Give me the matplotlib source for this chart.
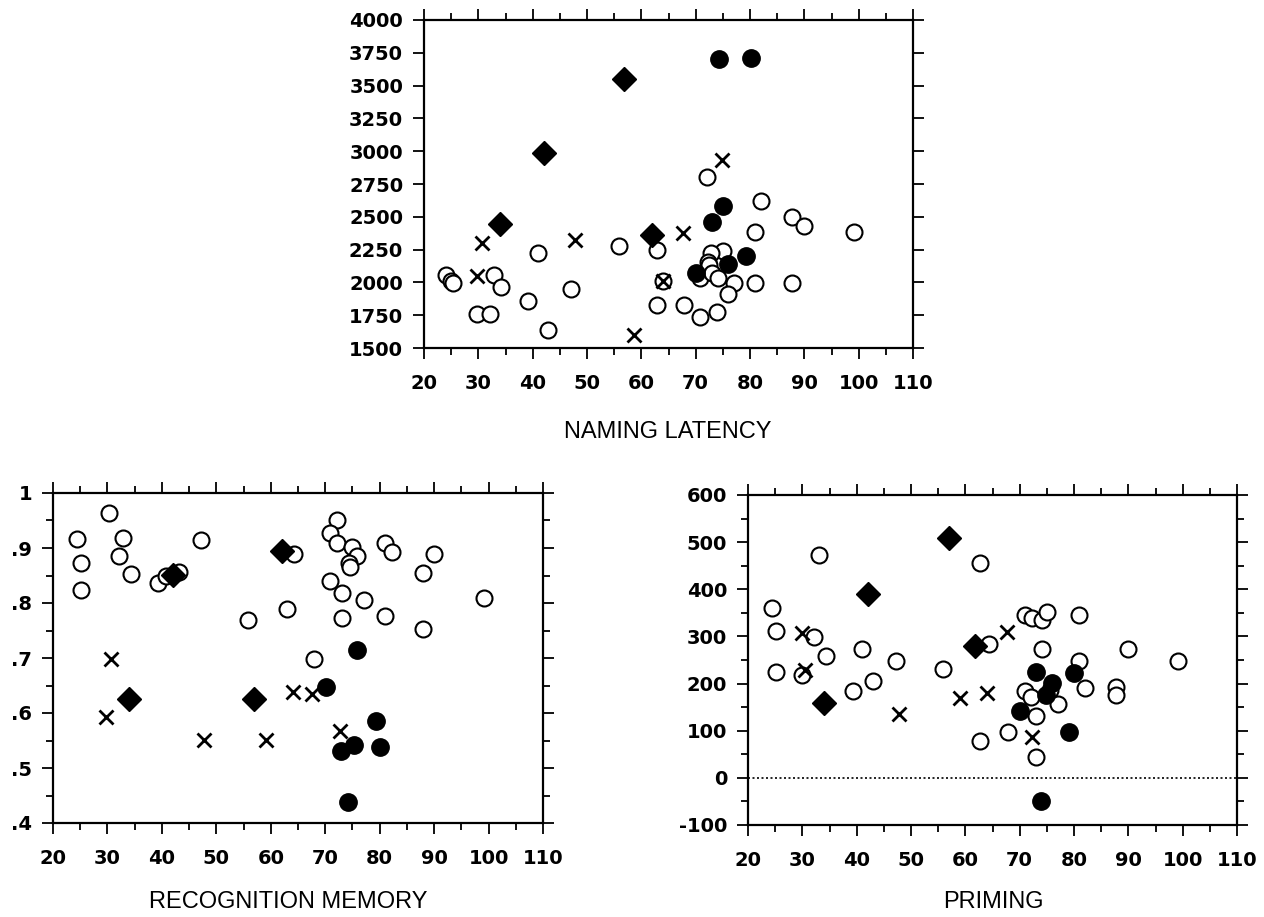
import matplotlib
matplotlib.use("Agg")
import matplotlib.pyplot as plt
from matplotlib.ticker import MultipleLocator, FuncFormatter

plt.rcParams["axes.unicode_minus"] = False

# ---------------- data ----------------
# NAMING LATENCY panel
nl_open_x = [24.0, 25.0, 25.4, 32.9, 34.2, 29.8, 32.1, 39.1, 40.9, 42.9, 47.1, 55.9, 62.8, 63.9, 62.8,
             67.9, 70.8, 74.0, 82.1, 87.8, 90.0, 99.2, 80.9, 75.0, 72.8, 72.2, 72.5, 70.8, 73.0, 74.2,
             77.1, 80.9, 87.8, 75.9, 72.0]
nl_open_y = [2056, 2013, 1998, 2056, 1967, 1759, 1759, 1860, 2226, 1637, 1950, 2280, 2247, 2013, 1828,
             1828, 1739, 1771, 2620, 2501, 2432, 2382, 2382, 2242, 2226, 2158, 2135, 2030, 2069, 2036,
             1998, 1998, 1998, 1912, 2806]
nl_fill_x = [74.3, 80.2, 75.1, 73.0, 79.3, 75.9, 70.1]
nl_fill_y = [3703, 3710, 2585, 2457, 2204, 2137, 2069]
nl_diam_x = [34.0, 42.1, 56.8, 61.9]
nl_diam_y = [2445, 2986, 3550, 2361]
nl_x_x = [29.7, 30.6, 47.7, 58.7, 63.9, 67.7, 74.8]
nl_x_y = [2049, 2298, 2323, 1600, 2013, 2374, 2933]

# RECOGNITION MEMORY panel
rm_open_x = [30.2, 24.4, 32.9, 25.1, 32.2, 34.3, 25.1, 39.2, 40.8, 43.2, 47.2, 64.2, 55.9, 63.0, 72.2,
             70.9, 72.2, 75.0, 75.9, 74.3, 74.5, 80.9, 82.2, 90.0, 87.9, 70.9, 73.0, 77.2, 99.2, 73.0,
             80.9, 87.9, 68.0]
rm_open_y = [0.964, 0.916, 0.919, 0.873, 0.886, 0.852, 0.824, 0.837, 0.849, 0.857, 0.915, 0.890, 0.769,
             0.790, 0.951, 0.927, 0.910, 0.902, 0.885, 0.872, 0.866, 0.910, 0.893, 0.889, 0.855, 0.840,
             0.819, 0.805, 0.810, 0.773, 0.777, 0.752, 0.698]
rm_fill_x = [70.1, 75.9, 79.3, 75.2, 72.9, 80.0, 74.2]
rm_fill_y = [0.648, 0.715, 0.585, 0.542, 0.531, 0.539, 0.439]
rm_diam_x = [34.0, 42.0, 57.0, 62.0]
rm_diam_y = [0.625, 0.851, 0.625, 0.895]
rm_x_x = [30.7, 29.7, 47.7, 59.1, 64.0, 67.6, 72.7]
rm_x_y = [0.699, 0.593, 0.551, 0.551, 0.639, 0.635, 0.567]

# PRIMING panel
pr_open_x = [33.1, 24.4, 25.2, 32.1, 34.3, 40.9, 47.2, 55.9, 62.7, 25.2, 30.0, 39.3, 43.0, 62.7, 70.9,
             72.2, 74.2, 75.1, 80.9, 64.4, 74.2, 89.9, 80.9, 99.1, 70.9, 72.1, 77.0, 82.0, 87.7, 87.7,
             73.0, 67.9, 73.0, 75.6]
pr_open_y = [473, 361, 312, 298, 259, 273, 248, 230, 456, 224, 218, 185, 205, 79, 345,
             340, 335, 351, 345, 284, 273, 273, 248, 248, 185, 172, 156, 190, 192, 176,
             131, 98, 45, 186]
pr_fill_x = [73.0, 80.0, 75.9, 74.8, 70.1, 79.1, 74.0]
pr_fill_y = [225, 223, 202, 176, 142, 98, -49]
pr_diam_x = [34.0, 42.1, 57.0, 61.8]
pr_diam_y = [158, 391, 508, 280]
pr_x_x = [29.9, 30.5, 47.8, 59.0, 64.0, 67.7, 72.3]
pr_x_y = [307, 228, 135, 170, 179, 310, 86]

x_ticks = [20, 30, 40, 50, 60, 70, 80, 90, 100, 110]
titles = ["NAMING LATENCY", "RECOGNITION MEMORY", "PRIMING"]

# ---------------- figure ----------------
fig = plt.figure(figsize=(12.64, 9.17), dpi=100)
W, H = 1264, 917

def box(l, t, r, b):
    return [l / W, 1 - b / H, (r - l) / W, (b - t) / H]

ax_nl = fig.add_axes(box(424, 20, 913, 348))
ax_rm = fig.add_axes(box(53, 493, 543, 823))
ax_pr = fig.add_axes(box(748, 495, 1237, 825))

TF = dict(fontfamily="DejaVu Sans", fontsize=14, fontweight="bold")

def style(ax, ylim, ymajor, yminor, fmt=None):
    ax.set_xlim(20, 110)
    ax.set_ylim(*ylim)
    ax.set_xticks(x_ticks)
    ax.set_xticklabels([str(t) for t in x_ticks], **TF)
    ax.xaxis.set_minor_locator(MultipleLocator(5))
    ax.yaxis.set_major_locator(MultipleLocator(ymajor))
    if yminor:
        ax.yaxis.set_minor_locator(MultipleLocator(yminor))
    if fmt:
        ax.yaxis.set_major_formatter(FuncFormatter(fmt))
    ax.tick_params(which="both", direction="out", top=True, right=True,
                   labeltop=False, labelright=False, width=1.3, color="black")
    ax.tick_params(which="major", length=8)
    ax.tick_params(which="minor", length=5)
    ax.tick_params(axis="x", which="major", pad=11)
    ax.tick_params(axis="y", which="major", pad=7)
    for s in ax.spines.values():
        s.set_linewidth(1.6)
        s.set_color("black")
    for lab in ax.get_yticklabels():
        lab.set_fontfamily(TF["fontfamily"])
        lab.set_fontsize(TF["fontsize"])
        lab.set_fontweight(TF["fontweight"])

def draw(ax, ox, oy, fx, fy, dx, dy, xx, xy):
    ax.plot(ox, oy, linestyle="none", marker="o", markersize=11.5, markerfacecolor="white",
            markeredgecolor="black", markeredgewidth=1.5, zorder=3)
    ax.plot(xx, xy, linestyle="none", marker="x", markersize=10, markeredgecolor="black",
            markeredgewidth=2.0, zorder=4)
    ax.plot(dx, dy, linestyle="none", marker="D", markersize=12, markerfacecolor="black",
            markeredgecolor="black", zorder=5)
    ax.plot(fx, fy, linestyle="none", marker="o", markersize=12.5, markerfacecolor="black",
            markeredgecolor="black", zorder=5)

draw(ax_nl, nl_open_x, nl_open_y, nl_fill_x, nl_fill_y, nl_diam_x, nl_diam_y, nl_x_x, nl_x_y)
draw(ax_rm, rm_open_x, rm_open_y, rm_fill_x, rm_fill_y, rm_diam_x, rm_diam_y, rm_x_x, rm_x_y)
draw(ax_pr, pr_open_x, pr_open_y, pr_fill_x, pr_fill_y, pr_diam_x, pr_diam_y, pr_x_x, pr_x_y)

ax_pr.axhline(0, color="black", linestyle=(0, (1.2, 1.5)), linewidth=1.2, zorder=1)

def dec(v, pos):
    if abs(v - 1) < 1e-9:
        return "1"
    return ("%.1f" % v).lstrip("0")

style(ax_nl, (1500, 4000), 250, None)
style(ax_rm, (0.4, 1.0), 0.1, 0.05, dec)
style(ax_pr, (-100, 600), 100, 50)

label_font = dict(family="Liberation Sans", size=17)
fig.text(668 / W, 1 - 432 / H, titles[0], ha="center", va="center", **label_font)
fig.text(288 / W, 1 - 902 / H, titles[1], ha="center", va="center", **label_font)
fig.text(993 / W, 1 - 902 / H, titles[2], ha="center", va="center", **label_font)

fig.savefig("out.png", dpi=100)
